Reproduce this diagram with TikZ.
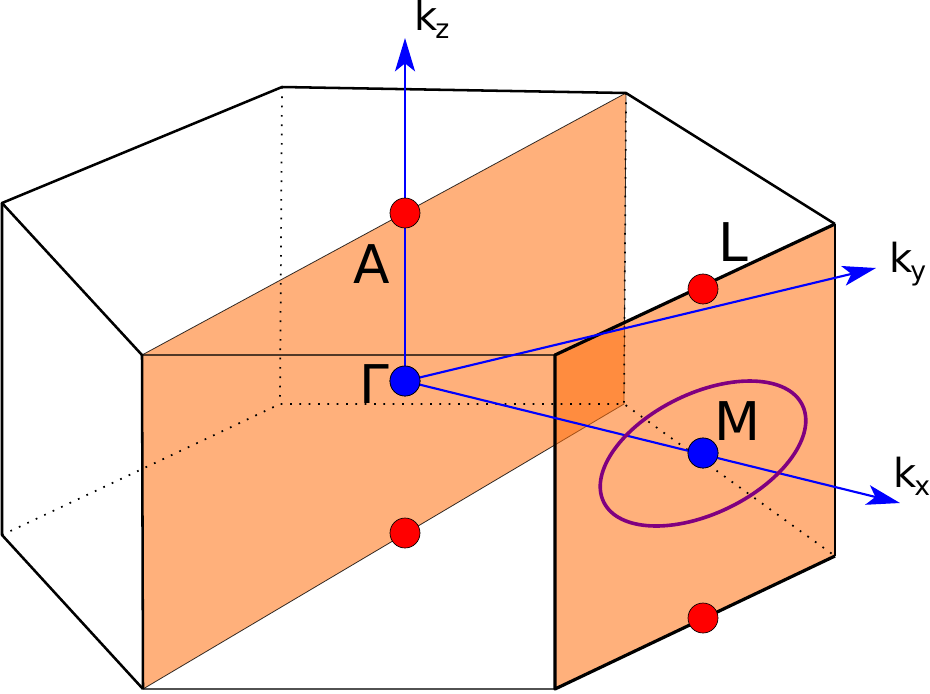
\documentclass[tikz,border=0pt]{standalone}
\usepackage{fontspec}
\setmainfont{DejaVu Sans}
\usetikzlibrary{arrows.meta}
\definecolor{planeorange}{HTML}{FF6F0E}
\definecolor{orbitpurple}{HTML}{800080}
\newcommand{\ksub}[1]{k\kern-1.5pt\raisebox{-6pt}{\fontsize{20}{20}\selectfont #1}}
\begin{document}
\begin{tikzpicture}[x=0.75pt, y=-0.75pt,
    edge/.style = {draw=black, line width=1.9pt, line join=round},
    heavy/.style = {draw=black, line width=2.4pt, line join=round},
    faint/.style = {draw=black, draw opacity=0.68, line width=1.8pt},
    hidden/.style = {draw=black, line width=1.3pt, dash pattern=on 1.3pt off 5.7pt},
    plane/.style = {fill=planeorange, fill opacity=0.55, draw=black, draw opacity=0.8, line width=0.6pt},
    axis/.style = {draw=blue, line width=1.6pt, -{Stealth[length=25pt, width=15pt, inset=6pt]}},
    point/.style = {draw=black, line width=0.5pt, circle, inner sep=0pt, minimum size=22.5pt},
    big/.style = {font=\fontsize{40}{40}\selectfont, inner sep=0pt, text=black},
    small/.style = {font=\fontsize{30}{30}\selectfont, inner sep=0pt, text=black, anchor=base west}]
    \useasboundingbox (0,0) rectangle (930,693);
    % corners of the cell
    \coordinate (t1) at (2,203);
    \coordinate (t2) at (282,87);
    \coordinate (t3) at (626,93);
    \coordinate (t4) at (835,224);
    \coordinate (t5) at (555,355);
    \coordinate (t6) at (142,355);
    \coordinate (b1) at (2,535);
    \coordinate (b2) at (280,404);
    \coordinate (b3) at (624,404);
    \coordinate (b4) at (835,556);
    \coordinate (b5) at (555,689);
    \coordinate (b6) at (143,689);
    % orange planes
    \fill[plane] (t6) -- (t3) -- (b3) -- (b6) -- cycle;
    \fill[plane, draw=none] (t5) -- (t4) -- (b4) -- (b5) -- cycle;
    % hidden edges
    \draw[hidden] (t2) -- (b2);
    \draw[hidden] (t3) -- (b3);
    \draw[hidden] (b1) -- (b2) -- (b3) -- (b4);
    % visible edges
    \draw[faint] (t6) -- (t5);
    \draw[faint] (b6) -- (b5);
    \draw[edge] (t6) -- (t1) -- (t2) -- (t3) -- (t4);
    \draw[edge] (t1) -- (b1) -- (b6);
    \draw[edge] (t6) -- (b6);
    \draw[edge] (t4) -- (b4);
    \draw[heavy] (t4) -- (t5) -- (b5) -- (b4);
    % points
    \node[point, fill=blue] (G) at (405,381) {};
    \node[point, fill=blue] (M) at (703,453) {};
    \coordinate (kz) at (405,38);
    \coordinate (ky) at (876,268);
    \coordinate (kx) at (900,503);
    \draw[axis] (G) -- (kz);
    \draw[axis] (G) -- (ky);
    \draw[axis] (G) -- (kx);
    \draw[orbitpurple, line width=2.7pt, rotate around={26:(703,453.5)}] (703,453.5) ellipse [x radius=82.9pt, y radius=45pt];
    \node[point, fill=blue] at (G) {};
    \node[point, fill=blue] at (M) {};
    \node[point, fill=red] (A) at (405,213) {};
    \node[point, fill=red] (A2) at (405,533) {};
    \node[point, fill=red] (L) at (703,289) {};
    \node[point, fill=red] (L2) at (703,618) {};
    % labels
    \node[big] (lA) at (372,264) {A};
    \node[big] (lG) at (374,384) {Γ};
    \node[big] (lL) at (733,242) {L};
    \node[big] (lM) at (737,421) {M};
    \node[small] (lz) at (414,30) {\ksub{z}};
    \node[small] (ly) at (889,272) {\ksub{y}};
    \node[small] (lx) at (893,487) {\ksub{x}};
\end{tikzpicture}
\end{document}
